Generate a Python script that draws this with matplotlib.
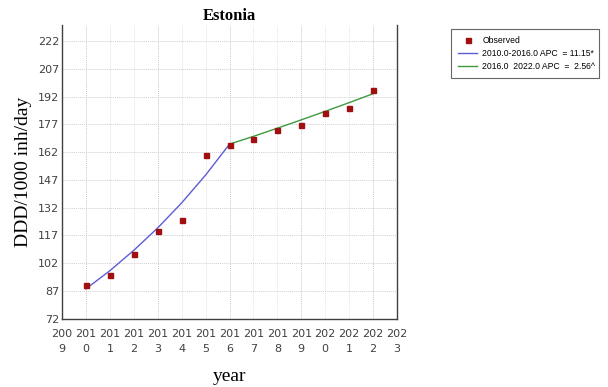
import numpy as np
import matplotlib.pyplot as plt

years = [2010, 2011, 2012, 2013, 2014, 2015, 2016, 2017, 2018, 2019, 2020, 2021, 2022]
observed = [90.3, 95.7, 107.0, 119.5, 125.4, 160.5, 165.9, 169.1, 174.0, 176.7, 183.2, 185.9, 195.3]

# fitted joinpoint segments
seg1_years = [2010, 2011, 2012, 2013, 2014, 2015, 2016]
seg1_vals = [88.2, 98.0, 109.0, 121.1, 134.6, 149.6, 166.3]
seg2_years = [2016, 2017, 2018, 2019, 2020, 2021, 2022]
seg2_vals = [166.3, 170.5, 174.9, 179.4, 184.0, 188.7, 193.5]

tick_years = list(range(2009, 2024))
yticks = [72, 87, 102, 117, 132, 147, 162, 177, 192, 207, 222]

fig = plt.figure(figsize=(6.08, 3.87), dpi=100)
ax = fig.add_axes([0.102, 0.176, 0.551, 0.759])

# grid, every third year a bit darker
for yr in tick_years:
    c = '#c8c8c8' if yr % 3 == 0 else '#e4e4e4'
    ax.axvline(yr, color=c, lw=0.7, ls=(0, (1, 1)), zorder=0)
for yv in yticks:
    ax.axhline(yv, color='#d0d0d0', lw=0.7, ls=(0, (1, 1)), zorder=0)

ax.plot(seg1_years, seg1_vals, color='#5c5cd6', lw=1.0, label='2010.0-2016.0 APC  = 11.15*')
ax.plot(seg2_years, seg2_vals, color='#3f9a3f', lw=1.0, label='2016.0  2022.0 APC  =  2.56^')
ax.plot(years, observed, ls='none', marker='s', ms=3.6, color='#a01010', label='Observed')

ax.set_xlim(2009, 2023)
ax.set_ylim(72, 230.5)
ax.set_xticks(tick_years)
ax.set_xticklabels([str(y)[:3] + '\n' + str(y)[3:] for y in tick_years], linespacing=1.7)
ax.set_yticks(yticks)
ax.tick_params(length=0, labelsize=8, colors='#404040', pad=7)
ax.tick_params(axis='y', pad=2)

ax.spines['top'].set_visible(False)
for s in ['left', 'bottom', 'right']:
    ax.spines[s].set_color('#404040')
    ax.spines[s].set_linewidth(1.0)

ax.set_title('Estonia', fontfamily='Liberation Serif', fontweight='bold', fontsize=12, pad=4)
ax.set_ylabel('DDD/1000 inh/day', fontfamily='Liberation Serif', fontsize=14, labelpad=4)
ax.set_xlabel('year', fontfamily='Liberation Serif', fontsize=14, labelpad=10)

h, l = ax.get_legend_handles_labels()
leg = fig.legend([h[2], h[0], h[1]], [l[2], l[0], l[1]], loc='upper left',
                 bbox_to_anchor=(0.735, 0.80, 0.257, 0.135), mode='expand',
                 prop={'family': 'Liberation Sans', 'size': 6.2}, frameon=True,
                 fancybox=False, edgecolor='#404040', handlelength=2.2,
                 handletextpad=0.6, borderpad=0.8, labelspacing=0.45)
leg.get_frame().set_linewidth(0.8)

fig.savefig('out.png', dpi=100)
